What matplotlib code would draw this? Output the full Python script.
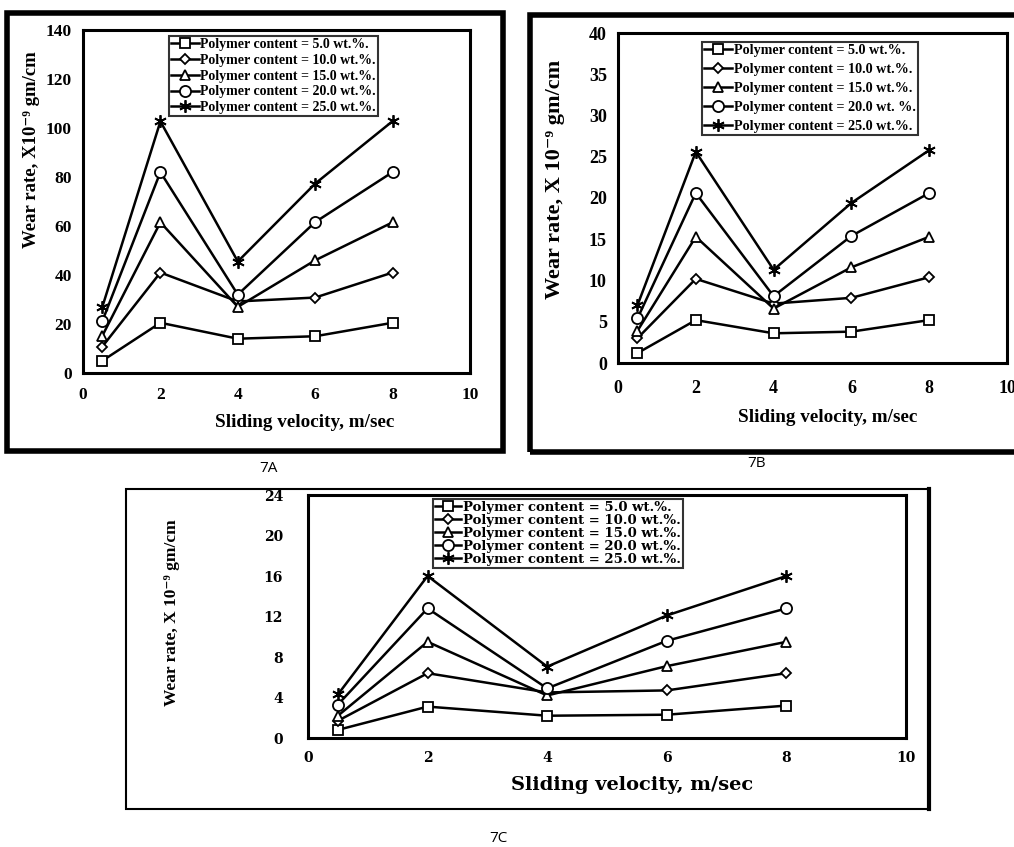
import matplotlib
matplotlib.use("Agg")
import matplotlib.pyplot as plt
from matplotlib.patches import Rectangle
from matplotlib.lines import Line2D

W, H = 1014, 847

# sliding velocity, m/sec
velocity = [0.5, 2, 4, 6, 8]

labels = ["Polymer content = 5.0 wt.%.",
          "Polymer content = 10.0 wt.%.",
          "Polymer content = 15.0 wt.%.",
          "Polymer content = 20.0 wt.%.",
          "Polymer content = 25.0 wt.%."]
labels_b = ["Polymer content = 5.0 wt.%.",
            "Polymer content = 10.0 wt.%.",
            "Polymer content = 15.0 wt.%.",
            "Polymer content = 20.0 wt. %.",
            "Polymer content = 25.0 wt.%."]

# 7A wear rate (x10^-9 gm/cm)
wear_a_5 = [5, 20.5, 14, 15, 20.5]
wear_a_10 = [10.8, 41, 29.2, 30.8, 41]
wear_a_15 = [15.2, 61.5, 27, 46, 61.5]
wear_a_20 = [21.2, 82, 32, 61.6, 82]
wear_a_25 = [27, 102.7, 45.5, 77.3, 102.8]

# 7B
wear_b_5 = [1.2, 5.2, 3.6, 3.8, 5.2]
wear_b_10 = [3.0, 10.2, 7.2, 7.9, 10.4]
wear_b_15 = [3.9, 15.3, 6.6, 11.6, 15.3]
wear_b_20 = [5.4, 20.6, 8.1, 15.4, 20.6]
wear_b_25 = [7.0, 25.6, 11.3, 19.4, 25.8]

# 7C
wear_c_5 = [0.8, 3.1, 2.2, 2.3, 3.2]
wear_c_10 = [1.7, 6.4, 4.5, 4.7, 6.4]
wear_c_15 = [2.2, 9.5, 4.2, 7.1, 9.5]
wear_c_20 = [3.3, 12.8, 4.9, 9.6, 12.8]
wear_c_25 = [4.3, 16.0, 7.05, 12.1, 16.0]

markers = ['s', 'D', '^', 'o', (6, 2, 0)]
msizes = [7.5, 5, 7.5, 8, 9]

serif = ['Liberation Serif', 'DejaVu Serif']
wide = ['DejaVu Serif']


def px(x, y):
    return x / W, 1 - y / H


def add_axes(fig, x0, y0, x1, y1):
    return fig.add_axes([x0 / W, 1 - y1 / H, (x1 - x0) / W, (y1 - y0) / H])


def frame(fig, x0, y0, x1, y1, lw):
    fig.patches.append(Rectangle(px(x0, y1), (x1 - x0) / W, (y1 - y0) / H,
                                 transform=fig.transFigure, fill=False,
                                 lw=lw, ec='black', zorder=0))


def panel(ax, series, names, ymax, ystep, family, tsize, lsize, ypad, xpad,
          leg_xy, leg_spacing):
    for vals, name, m, ms in zip(series, names, markers, msizes):
        ax.plot(velocity, vals, color='black', lw=1.8, marker=m, ms=ms,
                mfc='white', mec='black', mew=1.3, label=name)
    ax.set_xlim(0, 10)
    ax.set_ylim(0, ymax)
    ax.set_xticks(range(0, 11, 2))
    ax.set_yticks(range(0, ymax + 1, ystep))
    for s in ax.spines.values():
        s.set_linewidth(2.2)
    ax.tick_params(length=0, labelsize=tsize)
    ax.tick_params(axis='y', pad=ypad)
    ax.tick_params(axis='x', pad=xpad)
    for t in ax.get_xticklabels() + ax.get_yticklabels():
        t.set_family(family)
        t.set_weight('bold')
    leg = ax.legend(loc='upper left', bbox_to_anchor=px(*leg_xy),
                    bbox_transform=ax.figure.transFigure,
                    prop={'family': family, 'weight': 'bold', 'size': lsize},
                    frameon=True, fancybox=False, edgecolor='black',
                    borderpad=0.15, labelspacing=leg_spacing,
                    handlelength=2.0, handletextpad=0.1, borderaxespad=0)
    leg.get_frame().set_linewidth(1.5)
    return leg


fig = plt.figure(figsize=(W / 100, H / 100), dpi=100)

# outer frames
frame(fig, 7, 13, 503, 451, 4)
frame(fig, 530, 15, 1020, 452, 4)
frame(fig, 126, 489, 929, 809, 1.5)
fig.lines.append(Line2D([929 / W, 929 / W], [1 - 489 / H, 1 - 809 / H],
                        transform=fig.transFigure, color='black', lw=3))

ax_a = add_axes(fig, 83, 30, 470, 373)
panel(ax_a, [wear_a_5, wear_a_10, wear_a_15, wear_a_20, wear_a_25], labels,
      140, 20, serif, 12.5, 10, 8, 10, (169, 36), 0.2)
fig.text(*px(32, 150), "Wear rate, X10\u207b\u2079 gm/cm", rotation=90,
         ha='center', va='center', family=serif, weight='bold', fontsize=13.5)
fig.text(*px(305, 422), "Sliding velocity, m/sec", ha='center', va='center',
         family=serif, weight='bold', fontsize=13.8)

ax_b = add_axes(fig, 618, 33, 1007, 363)
panel(ax_b, [wear_b_5, wear_b_10, wear_b_15, wear_b_20, wear_b_25], labels_b,
      40, 5, serif, 13, 10.2, 8, 12, (702, 42), 0.42)
fig.text(*px(555, 179), "Wear rate, X 10\u207b\u2079 gm/cm", rotation=90,
         ha='center', va='center', family=serif, weight='bold', fontsize=16)
fig.text(*px(828, 418), "Sliding velocity, m/sec", ha='center', va='center',
         family=serif, weight='bold', fontsize=13.8)

ax_c = add_axes(fig, 308, 495, 906, 738)
panel(ax_c, [wear_c_5, wear_c_10, wear_c_15, wear_c_20, wear_c_25], labels,
      24, 4, wide, 10, 9.5, 18, 9, (433, 499), 0.0)
fig.text(*px(172, 613), "Wear rate, X 10\u207b\u2079 gm/cm", rotation=90,
         ha='center', va='center', family=serif, weight='bold', fontsize=12.5)
fig.text(*px(632, 785), "Sliding velocity, m/sec", ha='center', va='center',
         family=wide, weight='bold', fontsize=14)

# panel captions
for name, x, y in [("7A", 268, 468), ("7B", 757, 463), ("7C", 498, 838)]:
    fig.text(*px(x, y), name, ha='center', va='center', family='Open Sans',
             fontsize=11)

fig.savefig("out.png", dpi=100)
